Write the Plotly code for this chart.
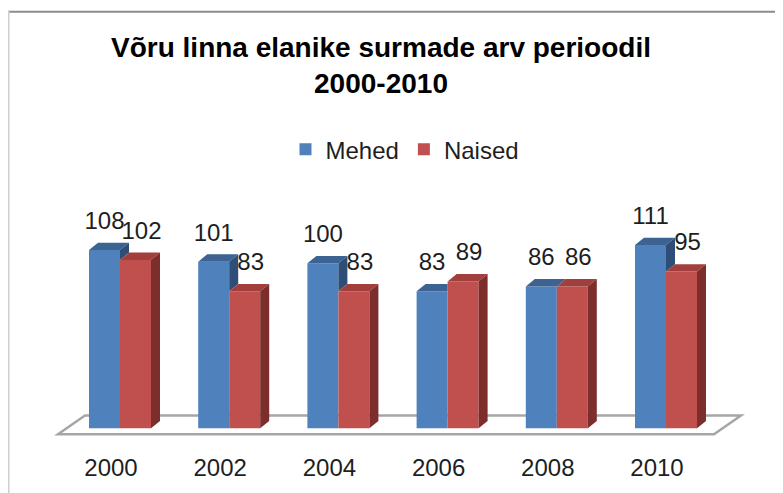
import plotly.graph_objects as go

# ---- data ----
years = ["2000", "2002", "2004", "2006", "2008", "2010"]
mehed = [108, 101, 100, 83, 86, 111]
naised = [102, 83, 83, 89, 86, 95]
series_names = ["Mehed", "Naised"]
title_text = "Võru linna elanike surmade arv perioodil<br>2000-2010"

# ---- styling / geometry (pixel values in reference-image coordinates) ----
W, H = 783, 493
OFF = 8                                 # page body margin
L, R, T, B = 40, 760, 190, 455          # plot area in pixels
PX_X = 109.2                            # pixels per category
PX_Y = 1.676                            # pixels per unit value
X0_PX, Y0_PX = 120, 432                 # pixel of x=0 / y=0
BAR_W = 31 / PX_X
DX = 9 / PX_X
DY = 7.5 / PX_Y
FONT = "Liberation Sans, Arial, sans-serif"

BLUE, BLUE_TOP, BLUE_SIDE = "#4F81BD", "#3C6392", "#2E4E77"
RED, RED_TOP, RED_SIDE = "#C0504D", "#A23F3C", "#7C2E2C"

xr = [(L - X0_PX) / PX_X, (R - X0_PX) / PX_X]
yr = [(Y0_PX - B) / PX_Y, (Y0_PX - T) / PX_Y]

n = len(years)
xs = list(range(n))


def poly_trace(polys, color):
    px, py = [], []
    for poly in polys:
        for (a, b) in poly:
            px.append(a)
            py.append(b)
        px.append(poly[0][0])
        py.append(poly[0][1])
        px.append(None)
        py.append(None)
    return go.Scatter(x=px, y=py, mode="lines", fill="toself", fillcolor=color,
                      line=dict(width=0, color=color), showlegend=False,
                      hoverinfo="skip")


fig = go.Figure()

# front faces
fig.add_trace(go.Bar(x=xs, y=mehed, width=BAR_W, offset=-BAR_W, name=series_names[0],
                     marker=dict(color=BLUE, line=dict(width=0))))
fig.add_trace(go.Bar(x=xs, y=naised, width=BAR_W, offset=0, name=series_names[1],
                     marker=dict(color=RED, line=dict(width=0))))

# 3D faces computed from the data
blue_tops, blue_sides, red_tops, red_sides = [], [], [], []
for i, (b, r) in enumerate(zip(mehed, naised)):
    bl, br = i - BAR_W, i
    if r >= b + DY:
        blue_tops.append([(bl, b), (br, b), (br, b + DY), (bl + DX, b + DY)])
    elif r > b:
        xc = br + (r - b) / DY * DX
        blue_tops.append([(bl, b), (br, b), (br, r), (xc, r), (br + DX, b + DY), (bl + DX, b + DY)])
    else:
        blue_tops.append([(bl, b), (br, b), (br + DX, b + DY), (bl + DX, b + DY)])
    if b > r:
        blue_sides.append([(br, r), (br, b), (br + DX, b + DY), (br + DX, r + DY)])
    rl, rr = i, i + BAR_W
    red_tops.append([(rl, r), (rr, r), (rr + DX, r + DY), (rl + DX, r + DY)])
    red_sides.append([(rr, 0), (rr, r), (rr + DX, r + DY), (rr + DX, DY)])

fig.add_trace(poly_trace(blue_tops, BLUE_TOP))
fig.add_trace(poly_trace(blue_sides, BLUE_SIDE))
fig.add_trace(poly_trace(red_tops, RED_TOP))
fig.add_trace(poly_trace(red_sides, RED_SIDE))

# value labels
LBL_OFF = 27.5 / PX_Y
fig.add_trace(go.Scatter(
    x=[i - BAR_W / 2 for i in xs] + [i + BAR_W / 2 + 6 / PX_X for i in xs],
    y=[v + LBL_OFF for v in mehed] + [v + LBL_OFF for v in naised],
    text=[str(v) for v in mehed] + [str(v) for v in naised],
    mode="text", textposition="middle center",
    textfont=dict(family=FONT, size=24, color="#1e1e1e"),
    showlegend=False, hoverinfo="skip"))

# floor (3D base plane)
y_front = (Y0_PX - 438) / PX_Y
y_back = (Y0_PX - 419) / PX_Y
x_fl = (58 - X0_PX) / PX_X
x_fr = (n - 1) + (714 - X0_PX - (n - 1) * PX_X) / PX_X
FD = 27 / PX_X
floor_path = (f"M {x_fl},{y_front} L {x_fr},{y_front} L {x_fr + FD},{y_back} "
              f"L {x_fl + FD},{y_back} Z")


def px2paper_x(p):
    return (p - L) / (R - L)


def px2paper_y(p):
    return (B - p) / (B - T)


FW, FH = W - OFF, H - OFF

fig.update_layout(
    width=FW, height=FH,
    margin=dict(l=L - OFF, r=W - R, t=T - OFF, b=H - B, pad=0),
    paper_bgcolor="white", plot_bgcolor="white",
    barmode="overlay",
    font=dict(family=FONT, color="#1e1e1e"),
    title=dict(text=title_text, x=(381 - OFF) / FW, xanchor="center", xref="container",
               y=1 - (57 - OFF) / FH, yanchor="top", yref="container",
               font=dict(family=FONT, size=28, color="black", weight="bold")),
    legend=dict(orientation="h", x=px2paper_x(405), xanchor="center",
                y=px2paper_y(149), yanchor="middle",
                font=dict(family=FONT, size=24, color="#1e1e1e"),
                bgcolor="rgba(0,0,0,0)", itemclick=False),
    xaxis=dict(range=xr, showgrid=False, zeroline=False, showline=False,
               tickmode="array", tickvals=[i - 9 / PX_X for i in xs], ticktext=years,
               ticks="", tickfont=dict(family=FONT, size=24, color="#1e1e1e"),
               fixedrange=True),
    yaxis=dict(range=yr, visible=False, fixedrange=True),
    shapes=[
        dict(type="path", path=floor_path, xref="x", yref="y", layer="below",
             line=dict(color="#a6a6a6", width=2.5), fillcolor="white"),
        dict(type="line", xref="paper", yref="paper",
             x0=px2paper_x(OFF), x1=px2paper_x(W + 5), y0=px2paper_y(OFF + 1), y1=px2paper_y(OFF + 1),
             line=dict(color="#8c8c8c", width=2)),
        dict(type="line", xref="paper", yref="paper",
             x0=px2paper_x(OFF + 0.75), x1=px2paper_x(OFF + 0.75), y0=px2paper_y(OFF), y1=px2paper_y(H + 5),
             line=dict(color="#cfcfcf", width=1.5)),
    ],
)

fig.write_html("out.html")
